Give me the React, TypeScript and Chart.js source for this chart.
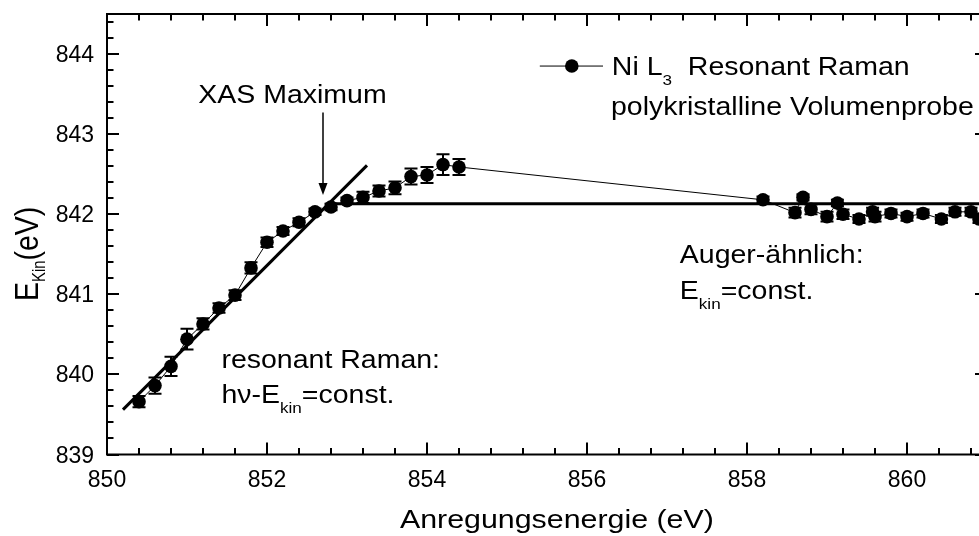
import React, { useEffect, useRef } from "react";
import { Chart, registerables } from "chart.js";

Chart.register(...registerables);

// Ni L3 resonant Raman: kinetic energy of the emission line vs. excitation energy
const photonEnergy = [
  850.4, 850.6, 850.8, 851.0, 851.2, 851.4, 851.6, 851.8, 852.0, 852.2, 852.4,
  852.6, 852.8, 853.0, 853.2, 853.4, 853.6, 853.8, 854.0, 854.2, 854.4, 858.2,
  858.6, 858.7, 858.8, 859.0, 859.13, 859.2, 859.4, 859.57, 859.6, 859.8, 860.0,
  860.2, 860.43, 860.6, 860.8, 860.9,
];
const kineticEnergy = [
  839.66, 839.86, 840.1, 840.44, 840.63, 840.83, 840.99, 841.33, 841.65, 841.79,
  841.9, 842.03, 842.09, 842.17, 842.21, 842.29, 842.33, 842.47, 842.49, 842.62,
  842.59, 842.18, 842.02, 842.21, 842.06, 841.97, 842.14, 842.0, 841.94, 842.03,
  841.97, 842.01, 841.97, 842.01, 841.94, 842.03, 842.03, 841.94,
];
const kineticError = [
  0.07, 0.1, 0.12, 0.13, 0.07, 0.06, 0.06, 0.07, 0.06, 0.05, 0.05, 0.04, 0.04,
  0.04, 0.07, 0.07, 0.08, 0.1, 0.1, 0.13, 0.1, 0.04, 0.06, 0.04, 0.06, 0.06,
  0.04, 0.06, 0.05, 0.05, 0.06, 0.05, 0.05, 0.05, 0.05, 0.05, 0.05, 0.05,
];

// guide lines: hν − E_kin = const. and E_kin = const.
const ramanLineX = [850.2, 853.25];
const ramanLineY = [839.56, 842.61];
const augerLineX = [852.77, 861];
const augerLineY = [842.13, 842.13];

// axes
const xRange = [850, 861];
const yRange = [839, 844.5];
const xMajorTicks = [850, 852, 854, 856, 858, 860];
const yMajorTicks = [839, 840, 841, 842, 843, 844];
const xMinorStep = 0.4;
const yMinorStep = 0.2;

const FONT = '"Liberation Sans", Arial, Helvetica, sans-serif';
const STRETCH = 1.14;

type Run = { t: string; sub?: boolean };

function drawRuns(
  ctx: CanvasRenderingContext2D,
  runs: Run[],
  x: number,
  y: number,
  size: number,
  subSize: number,
  sx = STRETCH,
  sy = 1,
  subDrop = 10
) {
  let cx = x;
  for (const r of runs) {
    const fs = r.sub ? subSize : size;
    const dy = r.sub ? subDrop : 0;
    ctx.save();
    ctx.font = `${fs}px ${FONT}`;
    ctx.textAlign = "left";
    ctx.textBaseline = "alphabetic";
    ctx.translate(cx, y + dy * sy);
    ctx.scale(sx, sy);
    ctx.fillText(r.t, 0, 0);
    const w = ctx.measureText(r.t).width * sx;
    ctx.restore();
    cx += w;
  }
  return cx - x;
}

const decorPlugin = {
  id: "decor",
  beforeDatasetsDraw(chart: any) {
    const ctx: CanvasRenderingContext2D = chart.ctx;
    const xs = chart.scales.x;
    const ys = chart.scales.y;
    ctx.save();
    ctx.strokeStyle = "#000";
    ctx.lineWidth = 2;
    for (let i = 0; i < photonEnergy.length; i++) {
      const px = xs.getPixelForValue(photonEnergy[i]);
      const top = ys.getPixelForValue(kineticEnergy[i] + kineticError[i]);
      const bot = ys.getPixelForValue(kineticEnergy[i] - kineticError[i]);
      ctx.beginPath();
      ctx.moveTo(px, top);
      ctx.lineTo(px, bot);
      ctx.moveTo(px - 6.5, top);
      ctx.lineTo(px + 6.5, top);
      ctx.moveTo(px - 6.5, bot);
      ctx.lineTo(px + 6.5, bot);
      ctx.stroke();
    }
    ctx.restore();
  },
  afterDraw(chart: any) {
    const ctx: CanvasRenderingContext2D = chart.ctx;
    const xs = chart.scales.x;
    const ys = chart.scales.y;
    const { left, right, top, bottom } = chart.chartArea;
    ctx.save();
    ctx.fillStyle = "#000";
    ctx.strokeStyle = "#000";

    // frame
    ctx.lineWidth = 2;
    ctx.strokeRect(left, top, right - left, bottom - top);

    // ticks (inward on all four sides)
    ctx.lineWidth = 2;
    ctx.beginPath();
    const nx = Math.floor((xRange[1] - xRange[0]) / xMinorStep + 1e-6);
    for (let i = 0; i <= nx; i++) {
      const v = xRange[0] + i * xMinorStep;
      const major = xMajorTicks.some((m) => Math.abs(m - v) < 1e-6);
      const len = major ? 12 : 6.5;
      const px = Math.round(xs.getPixelForValue(v));
      ctx.moveTo(px, bottom);
      ctx.lineTo(px, bottom - len);
      ctx.moveTo(px, top);
      ctx.lineTo(px, top + len);
    }
    const ny = Math.floor((yRange[1] - yRange[0]) / yMinorStep + 1e-6);
    for (let i = 0; i <= ny; i++) {
      const v = yRange[0] + i * yMinorStep;
      const major = yMajorTicks.some((m) => Math.abs(m - v) < 1e-6);
      const len = major ? 12 : 6.5;
      const py = Math.round(ys.getPixelForValue(v));
      ctx.moveTo(left, py);
      ctx.lineTo(left + len, py);
      ctx.moveTo(right, py);
      ctx.lineTo(right - len, py);
    }
    ctx.stroke();

    // tick labels
    ctx.font = `23px ${FONT}`;
    ctx.textBaseline = "alphabetic";
    ctx.textAlign = "center";
    for (const v of xMajorTicks) {
      ctx.fillText(String(v), xs.getPixelForValue(v), bottom + 32);
    }
    ctx.textAlign = "right";
    for (const v of yMajorTicks) {
      ctx.fillText(String(v), left - 13, ys.getPixelForValue(v) + 8);
    }

    // axis titles
    drawRuns(ctx, [{ t: "Anregungsenergie (eV)" }], 400, 528, 25.5, 15, 1.19);
    ctx.save();
    ctx.translate(38, 301);
    ctx.rotate(-Math.PI / 2);
    drawRuns(
      ctx,
      [{ t: "E" }, { t: "Kin", sub: true }, { t: "(eV)" }],
      0,
      0,
      25,
      13,
      1.14,
      1.35,
      5
    );
    ctx.restore();

    const X = (v: number) => xs.getPixelForValue(v);
    const Y = (v: number) => ys.getPixelForValue(v);

    // XAS maximum marker
    drawRuns(ctx, [{ t: "XAS Maximum" }], X(851.14), Y(843.39), 25, 15);
    const ax = X(852.7);
    const ay0 = Y(843.27);
    const ay1 = Y(842.24);
    ctx.lineWidth = 1.5;
    ctx.beginPath();
    ctx.moveTo(ax, ay0);
    ctx.lineTo(ax, ay1 - 8);
    ctx.stroke();
    ctx.beginPath();
    ctx.moveTo(ax, ay1);
    ctx.lineTo(ax - 4.5, ay1 - 12);
    ctx.lineTo(ax + 4.5, ay1 - 12);
    ctx.closePath();
    ctx.fill();

    // legend
    const ly = Y(843.85);
    ctx.lineWidth = 1;
    ctx.beginPath();
    ctx.moveTo(X(855.41), ly);
    ctx.lineTo(X(856.2), ly);
    ctx.stroke();
    ctx.beginPath();
    ctx.arc(X(855.81), ly, 6.8, 0, Math.PI * 2);
    ctx.fill();
    drawRuns(
      ctx,
      [{ t: "Ni L" }, { t: "3", sub: true }, { t: "  Resonant Raman" }],
      X(856.31),
      Y(843.74),
      25,
      15
    );
    drawRuns(ctx, [{ t: "polykristalline Volumenprobe" }], X(856.3), Y(843.24), 25, 15);

    // region labels
    drawRuns(ctx, [{ t: "Auger-ähnlich:" }], X(857.16), Y(841.39), 25, 15);
    drawRuns(
      ctx,
      [{ t: "E" }, { t: "kin", sub: true }, { t: "=const." }],
      X(857.16),
      Y(840.94),
      25,
      15
    );
    drawRuns(ctx, [{ t: "resonant Raman:" }], X(851.43), Y(840.08), 25, 15);
    drawRuns(
      ctx,
      [{ t: "h\u03bd-E" }, { t: "kin", sub: true }, { t: "=const." }],
      X(851.43),
      Y(839.64),
      25,
      15
    );

    ctx.restore();
  },
};

export default function App() {
  const canvasRef = useRef<HTMLCanvasElement | null>(null);

  useEffect(() => {
    const canvas = canvasRef.current;
    if (!canvas) return;
    const chart = new Chart(canvas, {
      type: "line",
      data: {
        datasets: [
          {
            label: "Ni L3 Resonant Raman",
            data: photonEnergy.map((x, i) => ({ x, y: kineticEnergy[i] })),
            borderColor: "#000",
            backgroundColor: "#000",
            borderWidth: 1,
            pointRadius: 6.8,
            pointBackgroundColor: "#000",
            pointBorderWidth: 0,
            tension: 0,
            order: 0,
          },
          {
            label: "hν-Ekin=const.",
            data: ramanLineX.map((x, i) => ({ x, y: ramanLineY[i] })),
            borderColor: "#000",
            borderWidth: 3,
            pointRadius: 0,
            order: 1,
          },
          {
            label: "Ekin=const.",
            data: augerLineX.map((x, i) => ({ x, y: augerLineY[i] })),
            borderColor: "#000",
            borderWidth: 3,
            pointRadius: 0,
            order: 1,
          },
        ],
      },
      options: {
        animation: false,
        responsive: false,
        devicePixelRatio: 1,
        layout: { padding: { left: 107, top: 14, right: 13, bottom: 81.5 } },
        plugins: {
          legend: { display: false },
          tooltip: { enabled: false },
        },
        events: [],
        scales: {
          x: { type: "linear", min: xRange[0], max: xRange[1], display: false },
          y: { type: "linear", min: yRange[0], max: yRange[1], display: false },
        },
      },
      plugins: [decorPlugin],
    });
    return () => chart.destroy();
  }, []);

  return (
    <div
      style={{
        position: "fixed",
        left: 0,
        top: 0,
        width: 979,
        height: 536,
        overflow: "hidden",
        background: "#fff",
      }}
    >
      <canvas ref={canvasRef} width={1000} height={536} style={{ width: 1000, height: 536 }} />
    </div>
  );
}
